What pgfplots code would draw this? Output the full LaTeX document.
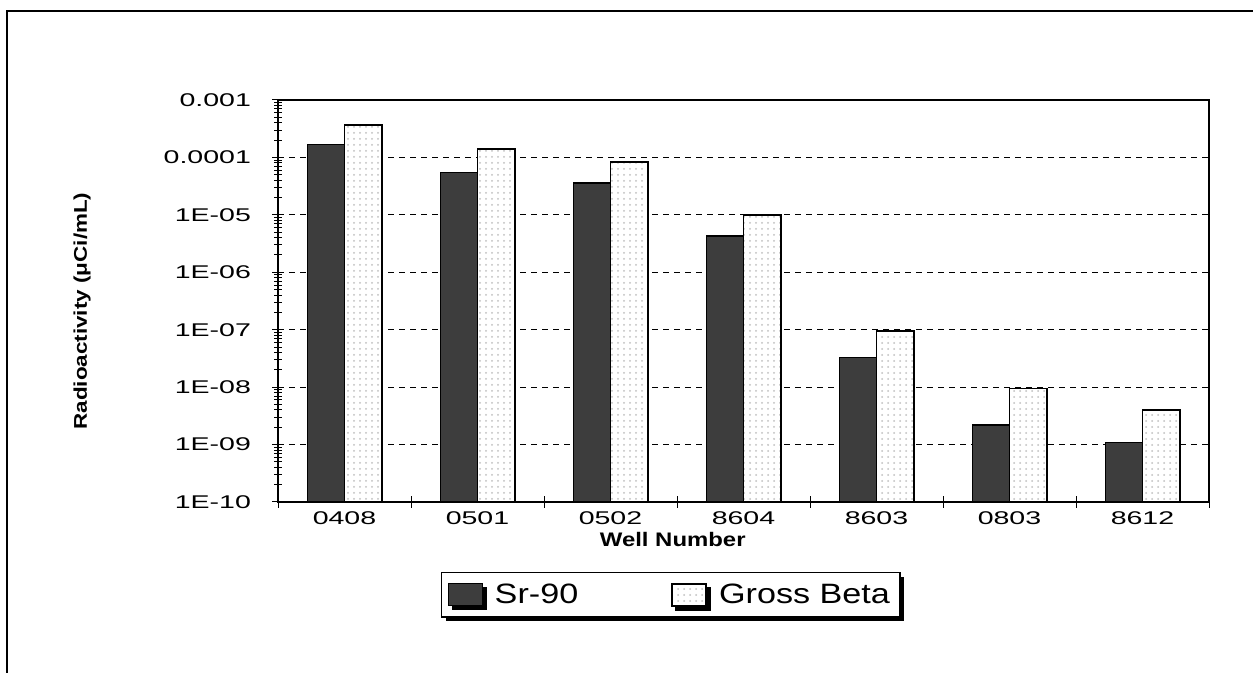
\documentclass[border=0pt]{standalone}
\usepackage{pgfplots}
\pgfplotsset{compat=1.18}
\usepackage{fontspec}
\setmainfont[FakeStretch=1.22]{Liberation Sans}
\newfontfamily\tickfont[FakeStretch=1.55]{Liberation Sans}
\usetikzlibrary{patterns,shadows}
\pgfplotsset{boxlegend/.style={legend image code/.code={\draw[##1] (0pt,-5.5pt) rectangle (17pt,5.5pt);}}}

\begin{document}
\begin{tikzpicture}
\useasboundingbox (0,0) rectangle (626.5pt,336.5pt);
% outer frame (only left and top edges are visible)
\draw[line width=1pt] (3.5pt,0pt) -- (3.5pt,331pt) -- (626.5pt,331pt);
\begin{axis}[
  at={(139pt,85.5pt)}, anchor=south west,
  scale only axis, width=465.5pt, height=201pt,
  ymode=log, log origin=infty,
  ymin=1e-10, ymax=1e-3,
  xmin=-0.5, xmax=6.5,
  xtick={-0.5,0.5,1.5,2.5,3.5,4.5,5.5,6.5},
  x tick label as interval,
  xticklabels={0408,0501,0502,8604,8603,0803,8612},
  ytick={1e-10,1e-9,1e-8,1e-7,1e-6,1e-5,1e-4,1e-3},
  yticklabels={1E-10,1E-09,1E-08,1E-07,1E-06,1E-05,0.0001,0.001},
  minor ytick={2e-10,3e-10,4e-10,5e-10,6e-10,7e-10,8e-10,9e-10,
               2e-9,3e-9,4e-9,5e-9,6e-9,7e-9,8e-9,9e-9,
               2e-8,3e-8,4e-8,5e-8,6e-8,7e-8,8e-8,9e-8,
               2e-7,3e-7,4e-7,5e-7,6e-7,7e-7,8e-7,9e-7,
               2e-6,3e-6,4e-6,5e-6,6e-6,7e-6,8e-6,9e-6,
               2e-5,3e-5,4e-5,5e-5,6e-5,7e-5,8e-5,9e-5,
               2e-4,3e-4,4e-4,5e-4,6e-4,7e-4,8e-4,9e-4},
  tick pos=left,
  ymajorgrids,
  grid style={black, dash pattern=on 3pt off 2.5pt, line width=0.5pt},
  tick align=center, major tick length=6pt, minor tick length=4pt,
  tick style={black, line width=0.5pt},
  axis line style={black, line width=0.6pt},
  /pgf/number format/assume math mode=true,
  ticklabel style={font=\tickfont\fontsize{9.2}{11}\selectfont},
  xticklabel style={yshift=1.5pt},
  yticklabel style={xshift=-7pt},
  xlabel={Well Number},
  xlabel style={font=\bfseries\fontsize{9.8}{12}\selectfont,
    at={(axis description cs:0.424,0)}, anchor=base, yshift=-22.3pt},
  ylabel={Radioactivity (μCi/mL)},
  ylabel style={font=\bfseries\fontsize{9.2}{12}\selectfont,
    at={(axis description cs:-0.2105,0.475)}, anchor=center},
  legend columns=2,
  legend style={at={(axis description cs:0.175,-0.174)}, anchor=north west,
    draw=black, line width=0.6pt, fill=white,
    font=\fontsize{14}{16}\selectfont,
    inner xsep=3pt, inner ysep=3.5pt,
    /tikz/every odd column/.append style={column sep=4pt},
    /tikz/every even column/.append style={column sep=44.5pt},
    drop shadow={shadow xshift=2pt, shadow yshift=-2pt, fill=black, opacity=1}},
]
\addplot[ybar, bar width=0.28, bar shift=-0.14, fill=black!76, draw=black,
  line width=0.6pt, boxlegend]
  coordinates {(0,1.7e-4) (1,5.4e-5) (2,3.6e-5) (3,4.3e-6) (4,3.3e-8) (5,2.2e-9) (6,1.1e-9)};
\addplot[ybar, bar width=0.28, bar shift=0.14, fill=white, draw=black,
  line width=0.9pt, postaction={pattern=dots, pattern color=black!25}, boxlegend]
  coordinates {(0,3.7e-4) (1,1.4e-4) (2,8.2e-5) (3,1.0e-5) (4,9.5e-8) (5,9.5e-9) (6,4.0e-9)};
\legend{Sr-90, Gross Beta}
\end{axis}
\end{tikzpicture}
\end{document}
